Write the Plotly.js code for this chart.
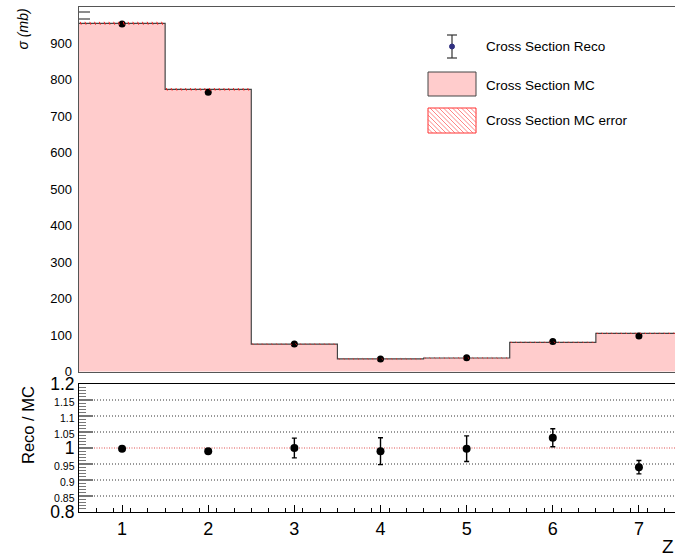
<!DOCTYPE html>
<html>
<head>
<meta charset="utf-8">
<script src="https://cdn.plot.ly/plotly-3.0.1.min.js"></script>
<style>
  html, body { margin: 0; padding: 0; overflow: hidden; background: #fff; }
  #plot { width: 700px; height: 553px; }
</style>
</head>
<body>
<div id="plot"></div>
<script>
// Bin centres (Z) and cross sections in mb
const bins = [1, 2, 3, 4, 5, 6, 7];
const mcXsec = [954, 773, 75, 34.5, 37, 80, 104.5];
const mcErr = [4, 3.5, 1.6, 1.3, 1.3, 1.6, 1.8];
const recoXsec = [952, 765, 75, 34, 37.5, 82, 97.5];
const recoErr = [4, 4, 2.3, 1.4, 1.5, 2.3, 2.2];
// Reco / MC ratio and its uncertainty
const ratio = [0.998, 0.99, 1.0, 0.99, 0.998, 1.032, 0.94];
const ratioErr = [0.005, 0.005, 0.031, 0.042, 0.04, 0.028, 0.021];
// Axis tick labels
const xsecTicks = [0, 100, 200, 300, 400, 500, 600, 700, 800, 900];
const ratioTicks = [0.8, 0.85, 0.9, 0.95, 1, 1.05, 1.1, 1.15, 1.2];
const ratioTickText = ['0.8', '0.85', '0.9', '0.95', '1', '1.05', '1.1', '1.15', '1.2'];
const ratioBigTicks = ['0.8', '1', '1.2'];
const legendLabels = ['Cross Section Reco', 'Cross Section MC', 'Cross Section MC error'];

const FONT = 'Liberation Sans, Arial, Helvetica, sans-serif';
const W = 700, H = 553;
const M = { l: 79, r: 18, t: 7, b: 41 };
const PW = W - M.l - M.r, PH = H - M.t - M.b;
// pixel -> paper helpers for the hand-built legend
const px = x => (x - M.l) / PW;
const py = y => (H - M.b - y) / PH;

const topDomain = [py(371.5), 1];
const botDomain = [0, py(384)];

// step outline of the MC histogram, built from the bin values
const edges = bins.map(b => b - 0.5).concat([bins[bins.length - 1] + 0.5]);
const stepY = mcXsec.concat([mcXsec[mcXsec.length - 1]]);

const traces = [
  {
    type: 'bar', x: bins, y: mcXsec, width: 1, xaxis: 'x', yaxis: 'y',
    marker: { color: '#ffcccc', line: { width: 0 } }, hoverinfo: 'skip', showlegend: false
  },
  {
    type: 'scatter', mode: 'lines', x: edges, y: stepY, xaxis: 'x', yaxis: 'y',
    line: { shape: 'hv', color: '#444', width: 1.2 }, hoverinfo: 'skip', showlegend: false
  },
  {
    type: 'scatter', mode: 'markers', x: bins, y: recoXsec, xaxis: 'x', yaxis: 'y',
    marker: { color: '#000', size: 7 },
    error_y: { type: 'data', array: recoErr, color: '#000', thickness: 1.2, width: 2 },
    showlegend: false
  },
  {
    type: 'scatter', mode: 'markers', x: bins, y: ratio, xaxis: 'x2', yaxis: 'y2',
    marker: { color: '#000', size: 8 },
    error_y: { type: 'data', array: ratioErr, color: '#000', thickness: 1.4, width: 2.5 },
    showlegend: false
  }
];

const shapes = [];
// dotted grid of the ratio panel (the unity line is drawn in red)
ratioTicks.filter(v => v > 0.8 && v < 1.2 && v !== 1).forEach(v => {
  shapes.push({ type: 'line', xref: 'x2', yref: 'y2', x0: 0.5, x1: 7.5, y0: v, y1: v, layer: 'between',
    line: { color: '#333', width: 1, dash: '1px,2px' } });
});
shapes.push({ type: 'line', xref: 'x2', yref: 'y2', x0: 0.5, x1: 7.5, y0: 1, y1: 1, layer: 'between',
  line: { color: '#e05050', width: 1.2, dash: '1px,1.5px' } });
// MC uncertainty band on each bin top: thin red hatch strokes
bins.forEach((b, i) => {
  const lo = mcXsec[i] - mcErr[i], hi = mcXsec[i] + mcErr[i];
  for (let k = 0; k < 18; k++) {
    const xa = b - 0.5 + (k + 0.25) / 18;
    shapes.push({ type: 'line', xref: 'x', yref: 'y', x0: xa, x1: xa + 0.012, y0: hi, y1: lo,
      line: { color: '#ff2020', width: 1 } });
  }
});
shapes.push(
  // short marks at the top of the cross-section axis
  { type: 'line', xref: 'paper', yref: 'paper', x0: px(79), x1: px(90), y0: py(12), y1: py(12),
    line: { color: '#666', width: 1.5 } },
  { type: 'line', xref: 'paper', yref: 'paper', x0: px(79), x1: px(90), y0: py(19), y1: py(19),
    line: { color: '#666', width: 1.5 } },
  // legend, Reco entry: error bar + marker
  { type: 'line', xref: 'paper', yref: 'paper', x0: px(452), x1: px(452), y0: py(35), y1: py(58),
    line: { color: '#333', width: 1.2 } },
  { type: 'line', xref: 'paper', yref: 'paper', x0: px(447), x1: px(457), y0: py(35), y1: py(35),
    line: { color: '#333', width: 1.2 } },
  { type: 'line', xref: 'paper', yref: 'paper', x0: px(447), x1: px(457), y0: py(58), y1: py(58),
    line: { color: '#333', width: 1.2 } },
  { type: 'circle', xref: 'paper', yref: 'paper', x0: px(449.5), x1: px(454.5), y0: py(44), y1: py(49),
    fillcolor: '#303080', line: { color: '#303080', width: 1 } },
  // legend, MC entry box
  { type: 'rect', xref: 'paper', yref: 'paper', x0: px(428), x1: px(476), y0: py(72), y1: py(96),
    fillcolor: '#ffcccc', line: { color: '#444', width: 1 } },
  // legend, MC error entry box
  { type: 'rect', xref: 'paper', yref: 'paper', x0: px(428), x1: px(476), y0: py(108), y1: py(133),
    fillcolor: '#fff', line: { color: '#ff3030', width: 1 } }
);
// hatch lines inside the MC error legend box
(function () {
  const x0 = 428, x1 = 476, y0 = 108, y1 = 133, h = y1 - y0;
  for (let t = x0 - h; t < x1; t += 4.5) {
    const sx = Math.max(t, x0), ex = Math.min(t + h, x1);
    if (ex <= sx) continue;
    shapes.push({
      type: 'line', xref: 'paper', yref: 'paper',
      x0: px(sx), y0: py(y0 + (sx - t)), x1: px(ex), y1: py(y0 + (ex - t)),
      line: { color: '#ff5050', width: 0.7 }
    });
  }
})();

const legendY = [47, 85, 121];
const annotations = legendLabels.map((txt, i) => ({
  xref: 'paper', yref: 'paper', x: px(484), y: py(legendY[i]), xanchor: 'left', yanchor: 'middle',
  text: txt, showarrow: false, font: { family: FONT, size: 13.5, color: '#000' }
}));
annotations.push(
  { xref: 'paper', yref: 'paper', x: 0, xshift: -57, y: 1, yanchor: 'top', xanchor: 'center',
    text: '<i>σ (mb)</i>', textangle: -90, showarrow: false,
    font: { family: FONT, size: 14, color: '#000' } },
  { xref: 'paper', yref: 'paper', x: 0, xshift: -51, y: botDomain[1], yanchor: 'top', xanchor: 'center',
    text: 'Reco / MC', textangle: -90, showarrow: false,
    font: { family: FONT, size: 16.5, color: '#000' } },
  { xref: 'paper', yref: 'paper', x: 1, xshift: -6, y: 0, yshift: -22, xanchor: 'right', yanchor: 'top',
    text: 'Z', showarrow: false, font: { family: FONT, size: 19, color: '#000' } }
);

const layout = {
  width: W, height: H, margin: M,
  paper_bgcolor: '#fff', plot_bgcolor: '#fff',
  barmode: 'overlay', bargap: 0, showlegend: false,
  font: { family: FONT, color: '#000' },
  xaxis: {
    domain: [0, 1], anchor: 'y', range: [0.5, 7.5], showticklabels: false, ticks: '',
    showgrid: false, zeroline: false, showline: true, linecolor: '#555', linewidth: 1, mirror: true
  },
  yaxis: {
    domain: topDomain, anchor: 'x', range: [0, 998.6], tickvals: xsecTicks, ticks: '',
    showgrid: false, zeroline: false, showline: true, linecolor: '#555', linewidth: 1.5, mirror: true,
    tickfont: { family: FONT, size: 13, color: '#000' }, ticklabelstandoff: 3
  },
  xaxis2: {
    domain: [0, 1], anchor: 'y2', range: [0.5, 7.5], tickmode: 'linear', tick0: 1, dtick: 1,
    ticks: 'inside', ticklen: 7, tickcolor: '#000', tickwidth: 1,
    minor: { tickmode: 'linear', tick0: 0.5, dtick: 0.2, ticks: 'inside', ticklen: 4, tickcolor: '#000' },
    showgrid: false, zeroline: false, showline: true, linecolor: '#000', linewidth: 1, mirror: true,
    tickfont: { family: FONT, size: 18, color: '#000' }
  },
  yaxis2: {
    domain: botDomain, anchor: 'x2', range: [0.8, 1.2], tickmode: 'array', tickvals: ratioTicks,
    ticktext: ratioTickText.map(t => ratioBigTicks.includes(t) ? t : '<span style="font-size:10.5px">' + t + '</span>'),
    ticks: 'inside', ticklen: 14, tickcolor: '#777', tickwidth: 2,
    minor: { tickmode: 'linear', tick0: 0.8, dtick: 0.01, ticks: 'inside', ticklen: 7, tickcolor: '#777', tickwidth: 1 },
    showgrid: false, zeroline: false, showline: true, linecolor: '#000', linewidth: 1, mirror: true,
    tickfont: { family: FONT, size: 17.5, color: '#000' }
  },
  shapes: shapes,
  annotations: annotations
};

Plotly.newPlot('plot', traces, layout, { staticPlot: true, displayModeBar: false });
</script>
</body>
</html>
